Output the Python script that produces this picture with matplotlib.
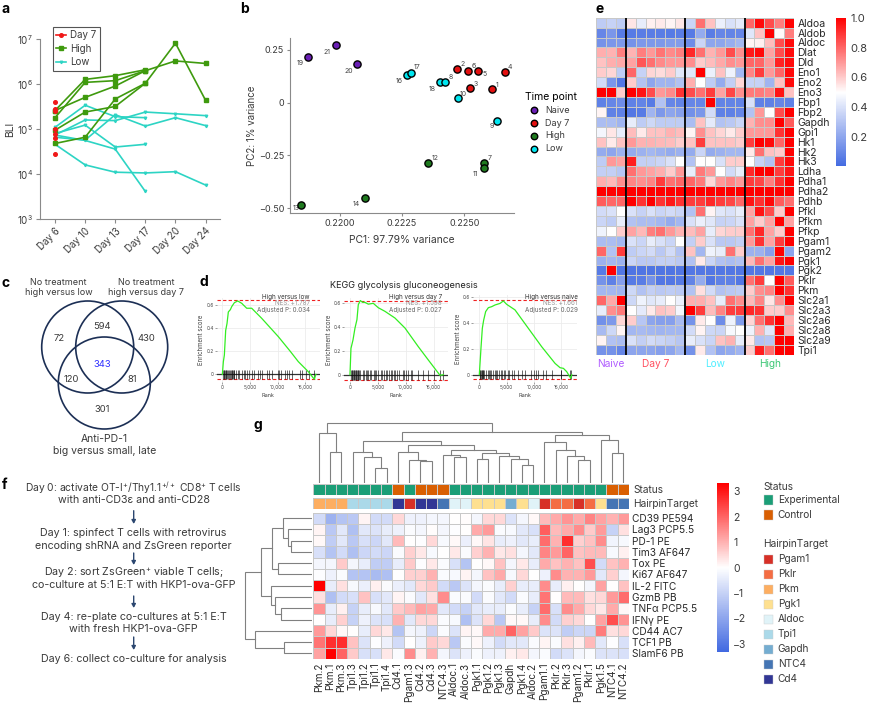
import numpy as np
import matplotlib
matplotlib.use("Agg")
import matplotlib.pyplot as plt
from matplotlib.colors import LinearSegmentedColormap, ListedColormap
from matplotlib.lines import Line2D
from matplotlib.patches import Circle, Rectangle

W, H = 869, 707
plt.rcParams['font.family'] = ['Inter', 'DejaVu Sans']
plt.rcParams['mathtext.default'] = 'regular'
plt.rcParams['mathtext.fontset'] = 'custom'
plt.rcParams['mathtext.rm'] = 'Inter'
TXT = '#3a3a3a'
AXC = '#8a8a8a'

# panel a: tumour BLI
days = ['Day 6', 'Day 10', 'Day 13', 'Day 17', 'Day 20', 'Day 24']
day7_vals = [4.1e5, 2.8e5, 2.6e5, 1.03e5, 8e4, 6.5e4, 2.8e4]
high_lines = [
    [2.6e5, 1.28e6, 1.55e6, 2.1e6],
    [1.8e5, 1.1e6, 1.2e6, 2.0e6],
    [2.6e5, 5.1e5, 9.1e5, 2.0e6, 3.3e6, 2.9e6],
    [9.5e4, 2.4e5, 3.2e5, 1.05e6, 8.2e6, 4.4e5],
    [4.8e4, 6.6e4, 4.7e5, 1.05e6],
]
low_lines = [
    [1.1e5, 3.4e5, 1.9e5, 1.8e5],
    [7.4e4, 1.6e5, 1.55e5, 2.4e5, 2.2e5, 2.0e5],
    [8e4, 1.23e5, 4e4, 4.6e4],
    [7.4e4, 5.6e4, 3.6e4, 4.1e3],
    [4.6e4, 1.6e4, 1.1e4, 1.06e4, 1.13e4, 5.7e3],
    [6.6e4, 5.7e4, 2.1e5, 1.17e5, 1.8e5, 1.2e5],
]

# panel b: PCA
sample_ids = [19, 21, 20, 16, 17, 18, 8, 2, 6, 5, 4, 3, 1, 10, 9, 12, 7, 11, 14, 13]
pc1 = [0.21874, 0.21985, 0.22068, 0.2227, 0.22286, 0.22402, 0.22421, 0.22472, 0.22513, 0.22555,
       0.22662, 0.22523, 0.2261, 0.22473, 0.22631, 0.22356, 0.22579, 0.22579, 0.22102, 0.21844]
pc2 = [0.2145, 0.27, 0.183, 0.1325, 0.142, 0.095, 0.095, 0.16, 0.15, 0.148,
       0.1435, 0.068, 0.063, 0.024, -0.088, -0.2855, -0.284, -0.3075, -0.45, -0.483]
timepoint = ['Naive', 'Naive', 'Naive', 'Low', 'Low', 'Low', 'Low', 'Day 7', 'Day 7', 'Day 7',
             'Day 7', 'Day 7', 'Day 7', 'Low', 'Low', 'High', 'High', 'High', 'High', 'High']
tp_names = ['Naive', 'Day 7', 'High', 'Low']
tp_colors = ['#6a1fb5', '#e31010', '#1f7a1f', '#00e6f0']
label_off = {19: (-25, 18), 21: (-26, 19), 20: (-23, 20), 16: (-23, 20), 17: (19, -18), 18: (-24, 20),
             8: (17, -16), 2: (16, -13), 6: (17, -16), 5: (18, 8), 4: (16, -17), 3: (17, -13),
             1: (15, -13), 10: (17, -12), 9: (-16, 14), 12: (20, -16), 7: (18, -14), 11: (-27, 19),
             14: (-26, 19), 13: (-15, 11)}

# panel c: venn counts
venn_counts = ['72', '594', '430', '343', '120', '81', '301']

# panel d: running enrichment scores
d_panels = [
    dict(rank=[0, 180, 360, 600, 840, 1080, 1450, 1690, 2170, 2770, 3490, 4400, 5300, 7110, 10120, 12230, 13730, 15540, 16630, 16900],
         es=[0, .11, .167, .38, .44, .54, .56, .586, .62, .635, .615, .572, .572, .485, .326, .202, .11, .023, -.043, 0],
         hits=[120, 240, 360, 480, 600, 720, 840, 1020, 1200, 1450, 1570, 1690, 1810, 1930, 2050, 2170, 2410, 2770, 3010, 3490, 3850, 4090, 4400, 4880, 5300, 5660, 6500, 6860, 7110, 8000, 8430, 9030, 10000, 10240, 10600, 11320, 11680, 12040, 12520, 14030, 14330, 15100, 15650, 16620],
         name='High versus low', nes='NES: +1.787', padj='Adjusted P: 0.034', lo=-.043, hi=.6436),
    dict(rank=[0, 180, 540, 900, 1250, 1490, 1850, 2270, 2690, 3290, 4180, 5080, 6270, 8060, 9860, 12250, 14040, 16130, 16730],
         es=[0, .22, .29, .39, .46, .585, .62, .605, .605, .59, .597, .56, .53, .474, .39, .234, .123, -.005, 0],
         hits=[150, 300, 420, 540, 660, 780, 900, 1020, 1140, 1260, 1380, 1500, 1620, 1800, 2300, 2500, 2800, 3100, 3300, 3600, 3800, 4300, 4500, 4700, 5000, 5500, 5800, 6100, 6400, 6700, 7000, 7300, 7500, 7900, 8100, 8500, 8800, 9500, 9700, 10000, 10400, 10900, 11200, 12200, 13100, 14000, 15100, 16100, 16600],
         name='High versus day 7', nes='NES: +1.598', padj='Adjusted P: 0.027', lo=-.042, hi=.62),
    dict(rank=[0, 300, 550, 790, 1160, 1650, 2260, 2870, 3780, 4390, 5000, 6520, 8960, 11400, 13850, 14760, 15370, 15980, 16710, 16890],
         es=[0, .203, .358, .42, .487, .517, .525, .538, .55, .569, .543, .5, .358, .216, .087, .054, .049, .023, -.028, 0],
         hits=[100, 200, 300, 400, 500, 600, 750, 900, 1200, 1500, 1700, 2000, 2200, 2500, 2800, 3000, 3300, 3600, 3900, 4100, 4500, 4700, 5200, 5500, 6000, 6400, 7000, 7800, 8300, 9400, 10000, 10300, 10700, 11700, 12200, 13200, 14900, 15000, 16600, 16800],
         name='High versus naive', nes='NES: +1.661', padj='Adjusted P: 0.029', lo=-.031, hi=.577),
]

# panel e: glycolysis genes
genes_e = ['Aldoa', 'Aldob', 'Aldoc', 'Dlat', 'Dld', 'Eno1', 'Eno2', 'Eno3', 'Fbp1', 'Fbp2', 'Gapdh', 'Gpi1',
           'Hk1', 'Hk2', 'Hk3', 'Ldha', 'Pdha1', 'Pdha2', 'Pdhb', 'Pfkl', 'Pfkm', 'Pfkp', 'Pgam1', 'Pgam2',
           'Pgk1', 'Pgk2', 'Pklr', 'Pkm', 'Slc2a1', 'Slc2a3', 'Slc2a6', 'Slc2a8', 'Slc2a9', 'Tpi1']
expr_e = [
    [.33, .35, .33, .55, .44, .53, .54, .52, .55, .36, .78, .62, .45, .4, .43, .8, .98, .85, .75, .99],
    [.1, .15, .06, .06, .07, .07, .07, .06, .07, .06, .22, .07, .1, .09, .1, .42, .62, 1, .51, .75],
    [.14, .15, .16, .14, .16, .16, .16, .17, .17, .12, .36, .2, .2, .23, .26, .52, .53, .63, .85, .98],
    [.66, .65, .75, .65, .75, .7, .77, .73, .75, .92, .78, .65, .7, .85, .72, .95, .98, .68, .85, .98],
    [.62, .66, .67, .68, .83, .78, .73, .7, .7, .72, .6, .63, .67, .72, .7, .8, .8, .7, .93, .98],
    [.6, .58, .33, .8, .35, .58, .57, .6, .42, .42, 1, .45, .62, .46, .26, .74, .88, .7, .8, .98],
    [.38, .15, .05, .6, .3, .2, .25, .25, .3, .66, .5, .33, .22, .34, .58, .35, .35, .25, .62, .98],
    [1, 1, .6, 1, .96, .85, .7, .73, .9, .85, .78, .88, .68, .86, .72, .76, .76, .74, .96, .62],
    [.08, .1, .12, .08, .09, .06, .3, .1, .09, .1, .1, 1, .09, .09, .09, .4, .08, .08, .1, .08],
    [.52, .08, .08, .05, .06, .25, .16, .2, .18, .13, .15, .38, .08, .08, .1, .3, .7, .5, .85, 1],
    [.28, .28, .25, .44, .33, .37, .33, .33, .33, .28, .62, .43, .3, .32, .36, .65, .72, .72, 1, .82],
    [.47, .55, .44, .63, .54, .62, .62, .65, .63, .52, .72, .62, .58, .54, .6, .7, .7, .7, .9, 1],
    [.62, .54, .62, .7, .65, .65, .64, .63, .6, .62, .88, .62, .62, .62, .6, .88, 1, .98, .8, 1],
    [.22, .2, .24, .22, .24, .26, .24, .22, .24, .22, .36, .22, .24, .26, .26, .54, .78, .62, .6, 1],
    [.33, .7, .68, .94, .34, .34, .36, .4, .5, .3, .5, .5, .4, .6, .6, .5, .35, .3, .88, .98],
    [.34, .34, .31, .78, .7, .68, .66, .6, .7, .44, .76, .7, .5, .38, .44, .92, 1, 1, .88, .96],
    [.66, .64, .72, .74, .72, .74, .88, .78, .8, .8, .76, .58, .7, .74, .7, .88, .86, .75, .9, 1],
    [1, 1, 1, 1, 1, 1, 1, 1, 1, 1, 1, 1, 1, 1, 1, 1, 1, 1, 1, 1],
    [.82, .8, .8, 1, .9, 1, .9, .95, .9, .88, .88, .92, .88, .86, .8, .96, .9, .98, .82, .78],
    [.38, .4, .5, .4, .35, .4, .36, .38, .36, .3, .78, .52, .42, .4, .44, .68, .96, .85, .6, 1],
    [.36, .33, .44, .3, .28, .28, .26, .22, .26, .4, .45, .42, .35, .36, .4, .68, .6, .68, 1, .68],
    [.46, .5, .6, .68, .64, .75, .78, .7, .65, .63, .68, .44, .58, .6, .6, .78, .92, .68, .6, 1],
    [.28, .28, .26, .4, .36, .44, .4, .36, .5, .34, .6, .4, .32, .32, .34, .7, .9, .68, .88, 1],
    [.8, .3, .88, .33, .36, .38, .32, .38, .3, .62, .26, .46, .44, .78, .6, .24, .24, .18, 1, .2],
    [.24, .26, .24, .36, .32, .32, .34, .34, .32, .3, .54, .36, .3, .28, .3, .64, .78, .68, .96, 1],
    [.06, 1, .05, .04, .04, .04, .04, .04, .05, .05, .05, .05, .05, .05, .05, .05, .05, .05, .05, .05],
    [.14, .08, .18, .06, .07, .14, .05, .05, .06, .09, .22, .05, .08, .08, .05, .78, .88, .5, 1, .82],
    [.26, .26, .25, .37, .3, .34, .32, .33, .32, .3, .56, .38, .3, .32, .33, .6, .72, .74, 1, .9],
    [.8, .67, 1, .37, .46, .42, .44, .5, .45, .66, .66, .62, .44, .78, .72, .64, .74, .55, .72, 1],
    [.44, .72, .76, .5, .43, .54, .62, .6, .47, 1, .88, .63, .74, .88, .88, .92, .9, .6, .6, .72],
    [.13, .16, .58, .6, .31, .2, .18, .18, .27, .14, .54, .5, .12, .46, .17, .58, .78, .9, 1, .64],
    [.27, .37, .52, .26, .27, .26, .25, .26, .26, .38, .52, .37, .36, .48, .5, .46, .65, .42, 1, .66],
    [.52, .3, .28, .4, .34, .38, .36, .34, .31, .44, .4, .36, .62, .65, .44, .54, .3, .31, 1, 1],
    [.14, .14, .1, .2, .2, .2, .18, .2, .26, .14, .54, .3, .2, .22, .25, .6, .94, .78, 1, 1],
]
group_sizes_e = [3, 6, 6, 5]

# panel f: protocol text
protocol = [
    ('Day 0: activate OT-I$^{+}$/Thy1.1$^{+/+}$ CD8$^{+}$ T cells', 'with anti-CD3ε and anti-CD28'),
    ('Day 1: spinfect T cells with retrovirus', 'encoding shRNA and ZsGreen reporter'),
    ('Day 2: sort ZsGreen$^{+}$ viable T cells;', 'co-culture at 5:1 E:T with HKP1-ova-GFP'),
    ('Day 4: re-plate co-cultures at 5:1 E:T', 'with fresh HKP1-ova-GFP'),
    ('Day 6: collect co-culture for analysis',),
]

# panel g: hairpin screen
samples_g = ['Pkm.2', 'Pkm.1', 'Pkm.3', 'Tpi1.3', 'Tpi1.2', 'Tpi1.1', 'Tpi1.4', 'Cd4.1', 'Pgam1.3', 'Cd4.2',
             'Cd4.3', 'NTC4.3', 'Aldoc.1', 'Aldoc.3', 'Pgk1.1', 'Pgk1.2', 'Pgk1.3', 'Gapdh', 'Pgk1.4', 'Aldoc.2',
             'Pgam1.1', 'Pklr.2', 'Pklr.3', 'Pgam1.2', 'Pklr.1', 'Pgk1.5', 'NTC4.1', 'NTC4.2']
markers_g = ['CD39 PE594', 'Lag3 PCP5.5', 'PD-1 PE', 'Tim3 AF647', 'Tox PE', 'Ki67 AF647', 'IL-2 FITC', 'GzmB PB',
             'TNFα PCP5.5', 'IFNγ PE', 'CD44 AC7', 'TCF1 PB', 'SlamF6 PB']
expr_g = [
    [-.8, -1.7, -1.3, -1.2, .15, -.8, -.8, .5, -.3, -.3, -.2, -.2, 0, .05, -.2, .5, .5, -.6, -.2, .1, .9, 1.1, 1.4, 1.1, 1.6, 1.2, 1, 1.3],
    [.15, -1.2, -.5, -1.4, -.5, -.6, -.4, -.3, -.1, -.2, .05, -.2, -.05, 0, 1.1, 1.3, -.1, -.15, -.5, -.7, 2.1, .9, 1.1, 1.5, .7, 1.3, -1, .4],
    [.1, -1.1, -.5, -1.2, -.7, -.9, -.5, .9, 0, -.05, .5, -.15, .1, -.35, .1, .35, -.4, -.3, -.5, -.4, 1.9, 1, 2.7, .6, .8, 1.5, -.25, -.15],
    [-.7, -1.3, -.8, -1.4, -.9, -.8, -.9, -.1, .6, .3, -.15, 0, .3, -.1, .6, 1, .3, .4, -.2, -.5, 1.6, 1.3, 2, .8, .9, .9, -.15, .2],
    [-.2, -.2, .7, -.2, -.4, -1.1, -1.1, -.4, .7, -.05, .3, -.1, -.7, -1.3, 0, .1, .8, -.2, .3, -.4, 1.1, .8, 1, .8, 2.3, -.8, .8, 1],
    [-.05, -.3, -.1, -1.3, -1.3, -1.5, -1.4, 0, .6, .6, 1, -.1, -.15, .15, -.2, .8, 1.1, -.15, .5, 0, -.3, 1.5, 1, 1, 1.3, -.5, .6, -.2],
    [3.3, -.4, .4, -.15, -.35, .2, -.1, -.35, -.5, .5, .7, -.8, -1.2, -.6, -.2, -.1, -.4, .6, -.4, -.4, 1.5, -.4, .2, 0, -.2, 1.2, 0, .8],
    [.4, -1.4, -.8, -.7, .8, -.7, -.5, .15, -.1, -.5, .4, 1.5, -.1, -.1, -.8, -.1, -.5, -.8, -.1, -.4, 1.8, 0, .9, .9, .4, .5, 1.3, 1.9],
    [1.4, -.4, .2, -1, -.4, -.15, -.5, .7, .9, 1.2, 1.1, -.5, -.8, -1, -.5, -.4, -.4, -.1, -.4, -1, 1.9, -.7, 1.5, 1.1, .5, .3, 1.1, .1],
    [0, -.4, .6, -1, -.3, -.6, -.7, 1, -.5, .5, .5, -.1, -.15, -1.4, -.6, .5, -1.2, .1, .1, -.4, 1.5, -.8, .6, .5, 0, 1.2, 2.3, 1.4],
    [1.3, .5, .1, 0, -.4, .5, .3, -1.3, -.2, -.3, -.9, -.1, -.6, .15, .1, 1.1, 1.1, 2, 1.2, .7, -.6, -.6, -1.1, -.9, -.9, 1.7, .4, .5],
    [1.8, 2.7, 2.7, .8, -.6, -.05, -.3, -.8, 0, -.3, .7, .5, -1.2, -.1, .1, -.3, -.8, -.5, -.5, -.1, .15, -.1, .4, .2, .9, -.5, -.05, -.7],
    [1.2, 3.3, 2, .7, -.7, -.7, .3, -.1, 1.5, .2, 1, -.2, -.6, -.3, -.1, -.3, -.3, .2, .3, -.2, -.1, -.8, -.6, -.2, -.1, -.6, -.6, -.7],
]
hairpin_names = ['Pgam1', 'Pklr', 'Pkm', 'Pgk1', 'Aldoc', 'Tpi1', 'Gapdh', 'NTC4', 'Cd4']
hairpin_colors = ['#d73027', '#f46d43', '#fdae61', '#fee090', '#e0f3f8', '#abd9e9', '#74add1', '#4575b4', '#313695']
status_names = ['Experimental', 'Control']
status_colors = ['#1b9e77', '#d95f02']
# (height, left, right), leaves are column or row numbers
tree_a = (50.3, 0, (30.7, 1, 2))
tree_b = (30.7, 3, (26.3, 4, (14.7, 5, 6)))
tree_c = (30.7, 7, (23.3, 8, (22.3, 9, 10)))
tree_d = (28, 11, (25.7, 12, 13))
tree_e = (30.3, (24, 14, 15), (27, 16, (24, 17, (18, 18, 19))))
tree_f = (40.7, 20, (33, 21, (27, 22, (23, 23, 24))))
tree_h = (43, 25, (30.3, 26, 27))
col_tree = (59.7, tree_a, (51.3, (42, tree_b, (38, tree_c, (33, tree_d, tree_e))), (48, tree_f, tree_h)))
row_tree = (66, (51, (40, (29, 0, (23.3, 1, (20.7, 2, 3))), (33.3, 4, 5)), (40.7, 6, (36.7, 7, (31, 8, 9)))),
            (56, 10, (28, 11, 12)))

cmap = LinearSegmentedColormap.from_list('bwr2', ['#4169e1', '#ffffff', '#ff0000'])


def px_ax(l, t, r, b):
    return fig.add_axes([l / W, 1 - b / H, (r - l) / W, (b - t) / H])


def clean(ax):
    ax.spines['top'].set_visible(False)
    ax.spines['right'].set_visible(False)
    for s in ['left', 'bottom']:
        ax.spines[s].set_color(AXC)


def draw_tree(ax, node, horizontal=False):
    # returns (position, height) of the node
    if not isinstance(node, tuple):
        return node + .5, 0
    h, left, right = node
    p1, h1 = draw_tree(ax, left, horizontal)
    p2, h2 = draw_tree(ax, right, horizontal)
    xs, ys = [p1, p1, p2, p2], [h1, h, h, h2]
    if horizontal:
        xs, ys = ys, xs
    ax.plot(xs, ys, color='#808080', lw=.8, solid_joinstyle='miter')
    return (p1 + p2) / 2, h


fig = plt.figure(figsize=(W / 100, H / 100), dpi=100)
ov = fig.add_axes([0, 0, 1, 1], zorder=10)
ov.set_xlim(0, W)
ov.set_ylim(H, 0)
ov.axis('off')
ov.patch.set_alpha(0)

for letter, x, y in [('a', 2, 9), ('b', 240, 9), ('c', 2, 283), ('d', 199, 282), ('e', 596, 9), ('f', 2, 485), ('g', 253, 425)]:
    ov.text(x, y, letter, fontsize=10, fontweight='bold', color='black', ha='left', va='center')

# a
ax = px_ax(40, 39.3, 220, 219)
clean(ax)
pos = np.arange(len(days))
for vals in high_lines:
    ax.plot(pos[:len(vals)], vals, color='#3f9a0e', lw=1.2, marker='s', ms=2.4, zorder=2)
for vals in low_lines:
    ax.plot(pos[:len(vals)], vals, color='#2dd4c4', lw=1.2, marker='v', ms=1.8, zorder=1)
ax.plot([0] * len(day7_vals), day7_vals, ls='none', color='#f01818', marker='o', ms=2.6, zorder=3)
ax.set_yscale('log')
ax.set_ylim(1e3, 1e7)
ax.set_xlim(-.5, 5.48)
ax.minorticks_off()
ax.set_xticks(pos)
ax.set_xticklabels(days, rotation=45, ha='right', rotation_mode='anchor')
ax.tick_params(labelsize=7, color=AXC, labelcolor=TXT, length=3, width=.8, pad=2)
ax.set_ylabel('BLI', fontsize=7.5, color=TXT, labelpad=1)
handles = [Line2D([], [], color='#f01818', marker='o', ms=2.6, lw=1.2),
           Line2D([], [], color='#3f9a0e', marker='s', ms=2.4, lw=1.2),
           Line2D([], [], color='#2dd4c4', marker='v', ms=1.8, lw=1.2)]
leg = ax.legend(handles, ['Day 7', 'High', 'Low'], loc='upper left', bbox_to_anchor=(53 / W, 1 - 27 / H),
                bbox_transform=fig.transFigure, borderaxespad=0, fontsize=7, fancybox=False, labelcolor=TXT,
                edgecolor='#555555', framealpha=1, handlelength=.95, handletextpad=.5, labelspacing=.35, borderpad=.35)
leg.get_frame().set_linewidth(.8)

# b
ax = px_ax(290.3, 37.7, 514, 213)
clean(ax)
for name, col in zip(tp_names, tp_colors):
    idx = [i for i, t in enumerate(timepoint) if t == name]
    ax.scatter([pc1[i] for i in idx], [pc2[i] for i in idx], s=27, color=col, edgecolors='black',
               linewidths=1, label=name, zorder=3)
for sid, x, y in zip(sample_ids, pc1, pc2):
    dx, dy = label_off[sid]
    ax.annotate(str(sid), (x, y), xytext=(dx / 3, -dy / 3), textcoords='offset pixels', fontsize=5,
                color='#444444', ha='center', va='center', zorder=2)
ax.set_xlim(0.21802, 0.22699)
ax.set_ylim(-0.522, 0.3067)
ax.set_xticks([0.22, 0.2225, 0.225])
ax.set_xticklabels(['0.2200', '0.2225', '0.2250'])
ax.set_yticks([-0.5, -0.25, 0, 0.25])
ax.set_yticklabels(['−0.50', '−0.25', '0', '0.25'])
ax.tick_params(labelsize=6.5, color=AXC, labelcolor=TXT, length=2.5, width=.8, pad=2)
ax.set_xlabel('PC1: 97.79% variance', fontsize=7.4, color=TXT, labelpad=5)
ax.set_ylabel('PC2: 1% variance', fontsize=7, color=TXT, labelpad=1)
ax.legend(title='Time point', loc='upper left', bbox_to_anchor=(525 / W, 1 - 92 / H), bbox_transform=fig.transFigure,
          frameon=False, fontsize=6.5, title_fontsize=7.5, labelcolor=TXT, alignment='left', borderaxespad=0,
          borderpad=0, labelspacing=.42, handletextpad=.2, markerscale=.9)

# c
for cx, cy in [(87.7, 347), (121.7, 347), (104.3, 383)]:
    ov.add_patch(Circle((cx, cy), 46, fill=False, ec='#1c2f55', lw=1.2))
venn_xy = [(59.3, 338.3), (102.3, 326.3), (146, 338.3), (102.3, 364.3), (71, 379), (132, 379), (101.7, 409.3)]
for s, (x, y) in zip(venn_counts, venn_xy):
    ov.text(x, y, s, fontsize=6.8, color='#3030ff' if s == '343' else TXT, ha='center', va='center')
ov.text(58.7, 287.3, 'No treatment\nhigh versus low', fontsize=6.5, color=TXT, ha='center', va='center', linespacing=1.2)
ov.text(146, 287.3, 'No treatment\nhigh versus day 7', fontsize=6.5, color=TXT, ha='center', va='center', linespacing=1.2)
ov.text(104.3, 445, 'Anti-PD-1\nbig versus small, late', fontsize=7.5, color=TXT, ha='center', va='center', linespacing=1.15)

# d
ov.text(404, 285, 'KEGG glycolysis gluconeogenesis', fontsize=6.6, color='#222222', ha='center', va='center')
d_boxes = [(216.7, 298.3, 320, 381.7), (344.3, 298.3, 448.3, 381.7), (473.3, 295, 576.7, 381.7)]
d_lims = [(-1024, 17650, -.0635, .658), (-1015, 17620, -.0586, .639), (-1100, 17800, -.054, .615)]
d_right = [310, 441.7, 577.7]
for panel, box, lim, rx in zip(d_panels, d_boxes, d_lims, d_right):
    ax = px_ax(*box)
    for s in ax.spines.values():
        s.set_visible(False)
    ax.grid(True, color='#ececec', lw=.6)
    ax.set_axisbelow(True)
    ax.axhline(0, color='#333333', lw=.9)
    ax.axhline(panel['hi'], color='#f02020', lw=.8, ls=(0, (3, 2)))
    ax.axhline(panel['lo'], color='#f02020', lw=.8, ls=(0, (3, 2)))
    ax.vlines(panel['hits'], panel['lo'], .04, color='#111111', lw=.45)
    ax.plot(panel['rank'], panel['es'], color='#33ee22', lw=.9)
    ax.set_xlim(lim[0], lim[1])
    ax.set_ylim(lim[2], lim[3])
    ax.set_xticks([0, 5000, 10000, 15000])
    ax.set_xticklabels(['0', '5,000', '10,000', '15,000'])
    ax.set_yticks([0, .2, .4, .6])
    ax.set_yticklabels(['0', '0.2', '0.4', '0.6'])
    ax.tick_params(labelsize=3.4, color='#555555', labelcolor='#444444', length=1.2, width=.4, pad=1)
    ax.set_xlabel('Rank', fontsize=4, color='#444444', labelpad=2.5)
    ax.set_ylabel('Enrichment score', fontsize=4.4, color='#444444', labelpad=1.5)
    ov.text(rx, 296.7, panel['name'], fontsize=4.5, color='#333333', ha='right', va='center')
    ov.text(rx, 303.3, panel['nes'], fontsize=4.5, color='#999999', ha='right', va='center')
    ov.text(rx, 310, panel['padj'], fontsize=4.5, color='#666666', ha='right', va='center')

# e
ax = px_ax(596, 17.7, 794, 354.7)
mesh = ax.pcolormesh(np.array(expr_e), cmap=cmap, vmin=0, vmax=1, edgecolors='#c8c8c8', linewidth=.5)
ax.set_ylim(len(genes_e), 0)
ax.set_xticks([])
ax.yaxis.tick_right()
ax.set_yticks(np.arange(len(genes_e)) + .5)
ax.set_yticklabels(genes_e, fontsize=7.5, color='#2a2a2a')
ax.tick_params(axis='y', length=0, pad=2.5)
for s in ax.spines.values():
    s.set_visible(False)
for c in np.cumsum(group_sizes_e)[:-1]:
    ax.axvline(c, color='black', lw=1.3)
for name, col, x in [('Naive', '#b05cff', 611), ('Day 7', '#ff5060', 656), ('Low', '#50eeff', 715), ('High', '#40c878', 770)]:
    ov.text(x, 364, name, fontsize=7.3, color=col, ha='center', va='center')
cax = px_ax(836, 17.7, 846, 165.7)
cb = fig.colorbar(mesh, cax=cax, ticks=[.2, .4, .6, .8, 1])
cb.outline.set_visible(False)
cb.ax.set_yticklabels(['0.2', '0.4', '0.6', '0.8', '1.0'])
cb.ax.tick_params(labelsize=8, length=0, pad=3, labelcolor=TXT)
cb.ax.set_ylim(.01, 1)

# f
f_y = [(487.3, 500), (533.3, 545.7), (572.7, 585.3), (617, 629.3), (659.3,)]
for lines, ys in zip(protocol, f_y):
    for s, y in zip(lines, ys):
        ov.text(133.5, y, s, fontsize=7.4 if 'OT-I' in s else 7.7, color=TXT, ha='center', va='center')
for y0, y1 in [(510.7, 524), (553, 565), (596, 608), (637, 650)]:
    ov.annotate('', xy=(133.7, y1), xytext=(133.7, y0),
                arrowprops=dict(arrowstyle='-|>,head_width=.12,head_length=.22', color='#2c4770', lw=1, shrinkA=0, shrinkB=0))

# g
n_cols = len(samples_g)
hair = [hairpin_names.index(s.split('.')[0]) for s in samples_g]
stat = [1 if s.split('.')[0] in ('Cd4', 'NTC4') else 0 for s in samples_g]
ax = px_ax(313.3, 512.5, 629, 659)
mesh = ax.pcolormesh(np.array(expr_g), cmap=cmap, vmin=-3.32, vmax=3.32, edgecolors='#c8c8c8', linewidth=.5)
ax.set_ylim(len(markers_g), 0)
ax.set_xticks(np.arange(n_cols) + .5)
ax.set_xticklabels(samples_g, rotation=90, fontsize=7.2, color='#2a2a2a')
ax.yaxis.tick_right()
ax.set_yticks(np.arange(len(markers_g)) + .5)
ax.set_yticklabels(markers_g, fontsize=7.3, color='#2a2a2a')
ax.tick_params(length=0, pad=2.5)
for s in ax.spines.values():
    s.set_visible(False)

ax = px_ax(313.3, 484.3, 629, 495)
ax.pcolormesh([stat], cmap=ListedColormap(status_colors), vmin=0, vmax=1, edgecolors='#c8c8c8', linewidth=.5)
ax.axis('off')
ax = px_ax(313.3, 498.3, 629, 509)
ax.pcolormesh([hair], cmap=ListedColormap(hairpin_colors), vmin=0, vmax=8, edgecolors='#c8c8c8', linewidth=.5)
ax.axis('off')
ov.text(633, 490, 'Status', fontsize=7.3, color=TXT, va='center')
ov.text(633, 504, 'HairpinTarget', fontsize=7.3, color=TXT, va='center')

ax = px_ax(313.3, 420, 629, 483)
draw_tree(ax, col_tree)
ax.set_xlim(0, n_cols)
ax.set_ylim(0, 63)
ax.axis('off')

ax = px_ax(240, 512.5, 311.5, 659)
draw_tree(ax, row_tree, horizontal=True)
ax.set_xlim(71.5, 0)
ax.set_ylim(len(markers_g), 0)
ax.axis('off')

cax = px_ax(717.3, 483.3, 729, 652)
cb = fig.colorbar(mesh, cax=cax, ticks=[-3, -2, -1, 0, 1, 2, 3])
cb.outline.set_visible(False)
cb.ax.tick_params(labelsize=7.5, length=0, pad=3, labelcolor=TXT)

ov.text(763.3, 487.3, 'Status', fontsize=7.3, color=TXT, va='center')
for i, (name, col) in enumerate(zip(status_names, status_colors)):
    y = 500 + 15 * i
    ov.add_patch(Rectangle((763.7, y - 4.7), 9, 9.4, fc=col, ec='#cccccc', lw=.3))
    ov.text(777.7, y, name, fontsize=7.3, color=TXT, va='center')
ov.text(763.3, 544, 'HairpinTarget', fontsize=7.3, color=TXT, va='center')
for i, (name, col) in enumerate(zip(hairpin_names, hairpin_colors)):
    y = 559.3 + 15 * i
    ov.add_patch(Rectangle((763.7, y - 4.7), 9, 9.4, fc=col, ec='#cccccc', lw=.3))
    ov.text(777.7, y, name, fontsize=7.3, color=TXT, va='center')

fig.savefig('out.png', dpi=100)
